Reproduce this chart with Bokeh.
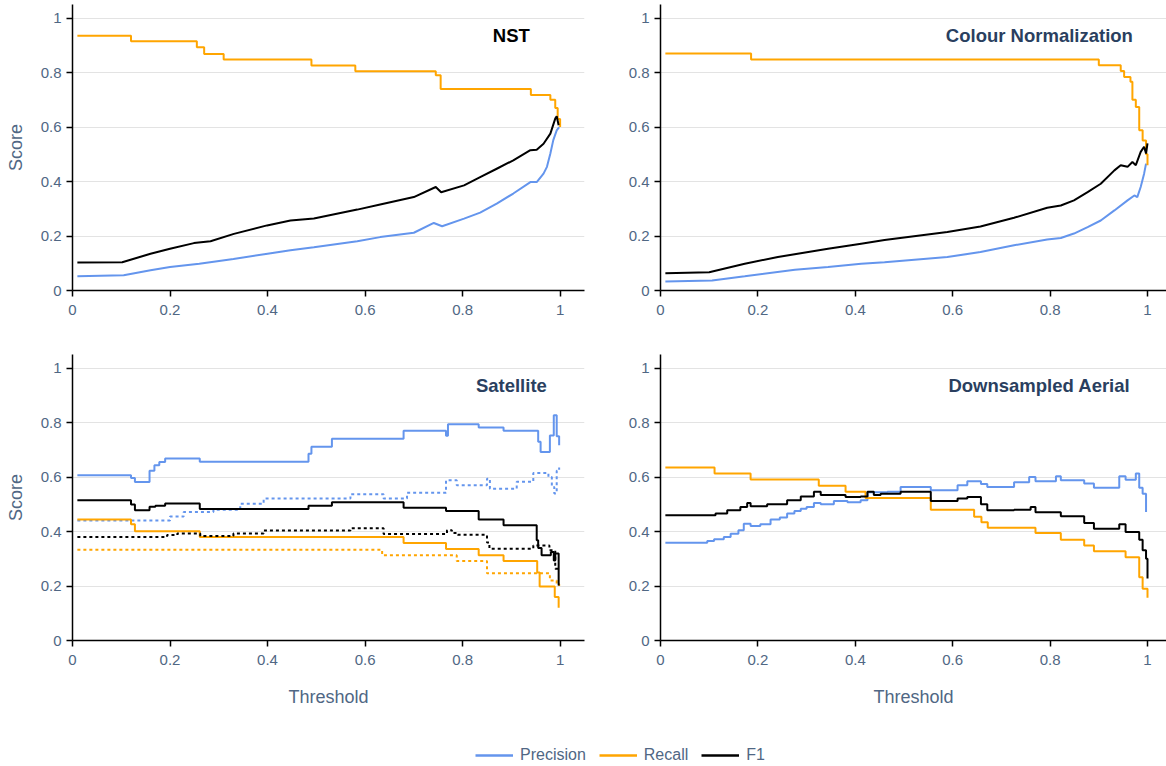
from bokeh.plotting import figure
from bokeh.models import Range1d, FixedTicker, CustomJSTickFormatter, Label, Legend, LegendItem
from bokeh.layouts import column, row
from bokeh.embed import file_html
from bokeh.resources import INLINE

# ---------------- data ----------------
panel_titles = ["NST", "Colour Normalization", "Satellite", "Downsampled Aerial"]
series_names = ["Precision", "Recall", "F1"]
tick_values = [0, 0.2, 0.4, 0.6, 0.8, 1]

# NST
nst_prec_x = [0.01, 0.105, 0.16, 0.2, 0.26, 0.33, 0.4, 0.447, 0.495, 0.584, 0.631, 0.70, 0.741, 0.758, 0.803, 0.836, 0.87, 0.904, 0.939, 0.952, 0.966, 0.973, 0.98, 0.986, 0.993, 0.998]
nst_prec_y = [0.052, 0.056, 0.074, 0.086, 0.098, 0.116, 0.135, 0.148, 0.159, 0.181, 0.196, 0.212, 0.248, 0.236, 0.264, 0.286, 0.319, 0.356, 0.398, 0.398, 0.429, 0.454, 0.503, 0.552, 0.588, 0.60]
nst_rec_x = [0.01, 0.12, 0.255, 0.27, 0.31, 0.49, 0.58, 0.745, 0.755, 0.94, 0.98, 0.99, 0.995, 1.0]
nst_rec_y = [0.935, 0.915, 0.893, 0.868, 0.848, 0.826, 0.805, 0.79, 0.74, 0.718, 0.70, 0.67, 0.63, 0.60]
nst_f1_x = [0.01, 0.102, 0.16, 0.2, 0.249, 0.283, 0.331, 0.399, 0.447, 0.495, 0.584, 0.631, 0.70, 0.745, 0.756, 0.803, 0.836, 0.87, 0.904, 0.939, 0.952, 0.966, 0.98, 0.99, 0.993, 0.997]
nst_f1_y = [0.103, 0.104, 0.135, 0.153, 0.174, 0.181, 0.208, 0.239, 0.257, 0.264, 0.297, 0.316, 0.343, 0.380, 0.361, 0.386, 0.416, 0.447, 0.478, 0.515, 0.517, 0.539, 0.576, 0.631, 0.640, 0.607]

# Colour Normalization
cn_prec_x = [0.01, 0.106, 0.173, 0.276, 0.344, 0.412, 0.46, 0.589, 0.657, 0.726, 0.794, 0.822, 0.849, 0.877, 0.904, 0.932, 0.959, 0.973, 0.979, 0.986, 0.993, 0.997]
cn_prec_y = [0.033, 0.037, 0.052, 0.076, 0.086, 0.098, 0.104, 0.123, 0.141, 0.166, 0.187, 0.193, 0.209, 0.233, 0.257, 0.294, 0.331, 0.349, 0.343, 0.380, 0.429, 0.466]
cn_rec_x = [0.01, 0.186, 0.90, 0.945, 0.952, 0.965, 0.969, 0.976, 0.983, 0.99, 0.997, 1.0]
cn_rec_y = [0.870, 0.848, 0.827, 0.806, 0.784, 0.766, 0.70, 0.674, 0.588, 0.551, 0.50, 0.46]
cn_f1_x = [0.01, 0.10, 0.173, 0.241, 0.344, 0.412, 0.46, 0.589, 0.657, 0.726, 0.794, 0.822, 0.849, 0.877, 0.904, 0.932, 0.945, 0.959, 0.969, 0.976, 0.986, 0.993, 0.997, 1.0]
cn_f1_y = [0.063, 0.067, 0.098, 0.123, 0.153, 0.172, 0.185, 0.215, 0.235, 0.267, 0.304, 0.312, 0.331, 0.361, 0.392, 0.441, 0.460, 0.454, 0.472, 0.460, 0.509, 0.528, 0.503, 0.54]

# Satellite (solid)
sat_prec_x = [0.01, 0.12, 0.128, 0.158, 0.168, 0.178, 0.19, 0.261, 0.484, 0.49, 0.532, 0.679, 0.766, 0.77, 0.833, 0.884, 0.955, 0.960, 0.979, 0.987, 0.993, 0.998]
sat_prec_y = [0.607, 0.597, 0.582, 0.623, 0.643, 0.655, 0.668, 0.656, 0.686, 0.711, 0.741, 0.770, 0.752, 0.794, 0.782, 0.770, 0.73, 0.692, 0.753, 0.827, 0.75, 0.717]
sat_rec_x = [0.01, 0.12, 0.128, 0.261, 0.679, 0.766, 0.833, 0.884, 0.953, 0.958, 0.989, 0.997]
sat_rec_y = [0.444, 0.427, 0.401, 0.380, 0.358, 0.336, 0.313, 0.292, 0.25, 0.198, 0.16, 0.12]
sat_f1_x = [0.01, 0.12, 0.128, 0.158, 0.17, 0.19, 0.261, 0.484, 0.532, 0.679, 0.766, 0.833, 0.884, 0.952, 0.955, 0.962, 0.981, 0.987, 0.99, 0.997]
sat_f1_y = [0.515, 0.499, 0.478, 0.491, 0.495, 0.503, 0.483, 0.495, 0.508, 0.487, 0.475, 0.444, 0.423, 0.368, 0.34, 0.313, 0.325, 0.294, 0.319, 0.202]
# Satellite (dotted)
sat2_prec_x = [0.01, 0.20, 0.228, 0.289, 0.344, 0.392, 0.570, 0.638, 0.686, 0.766, 0.788, 0.850, 0.856, 0.911, 0.945, 0.976, 0.983, 0.988, 0.993, 0.998]
sat2_prec_y = [0.441, 0.455, 0.472, 0.480, 0.502, 0.521, 0.537, 0.521, 0.542, 0.588, 0.570, 0.594, 0.557, 0.583, 0.615, 0.600, 0.564, 0.540, 0.623, 0.635]
sat2_rec_x = [0.01, 0.635, 0.788, 0.850, 0.979, 0.993, 0.998]
sat2_rec_y = [0.333, 0.313, 0.292, 0.247, 0.22, 0.207, 0.20]
sat2_f1_x = [0.01, 0.194, 0.215, 0.262, 0.33, 0.392, 0.570, 0.638, 0.768, 0.778, 0.79, 0.850, 0.855, 0.945, 0.978, 0.99, 0.998]
sat2_f1_y = [0.380, 0.387, 0.393, 0.384, 0.393, 0.404, 0.412, 0.391, 0.405, 0.395, 0.388, 0.36, 0.337, 0.349, 0.331, 0.263, 0.26]

# Downsampled Aerial
da_prec_x = [0.01, 0.096, 0.11, 0.13, 0.144, 0.16, 0.171, 0.185, 0.205, 0.226, 0.245, 0.26, 0.275, 0.288, 0.30, 0.315, 0.329, 0.356, 0.384, 0.411, 0.425, 0.466, 0.493, 0.555, 0.610, 0.630, 0.658, 0.671, 0.726, 0.757, 0.770, 0.812, 0.822, 0.870, 0.890, 0.942, 0.955, 0.976, 0.983, 0.99, 0.997]
da_prec_y = [0.359, 0.365, 0.372, 0.38, 0.392, 0.405, 0.429, 0.42, 0.427, 0.444, 0.452, 0.466, 0.475, 0.484, 0.49, 0.505, 0.500, 0.512, 0.508, 0.515, 0.544, 0.546, 0.564, 0.552, 0.570, 0.585, 0.575, 0.564, 0.581, 0.600, 0.585, 0.603, 0.588, 0.576, 0.561, 0.603, 0.590, 0.613, 0.561, 0.539, 0.472]
da_rec_x = [0.01, 0.111, 0.185, 0.325, 0.380, 0.421, 0.555, 0.644, 0.659, 0.672, 0.770, 0.822, 0.870, 0.89, 0.955, 0.983, 0.99, 1.0]
da_rec_y = [0.635, 0.613, 0.591, 0.568, 0.546, 0.523, 0.480, 0.454, 0.434, 0.414, 0.395, 0.370, 0.349, 0.328, 0.306, 0.232, 0.19, 0.157]
da_f1_x = [0.01, 0.106, 0.113, 0.137, 0.164, 0.178, 0.185, 0.219, 0.260, 0.288, 0.315, 0.329, 0.380, 0.411, 0.425, 0.438, 0.452, 0.493, 0.555, 0.610, 0.630, 0.658, 0.671, 0.726, 0.760, 0.770, 0.822, 0.870, 0.890, 0.942, 0.955, 0.983, 0.990, 0.997, 1.0]
da_f1_y = [0.460, 0.460, 0.466, 0.478, 0.490, 0.505, 0.493, 0.500, 0.515, 0.529, 0.546, 0.534, 0.527, 0.529, 0.546, 0.534, 0.539, 0.546, 0.512, 0.521, 0.527, 0.500, 0.478, 0.480, 0.490, 0.471, 0.456, 0.431, 0.410, 0.427, 0.398, 0.37, 0.331, 0.300, 0.228]

# ---------------- style ----------------
BLUE = "#6495ED"
ORANGE = "#FFA500"
BLACK = "#000000"
TICK_COLOR = "#506784"
TITLE_COLOR = "#2a3f5f"
FONT = "Liberation Sans"
YMAX = 1.05

fmt = CustomJSTickFormatter(code="return String(Math.round(tick*10)/10);")


def make_fig(width, height, xmax, ylabel, xlabel, border_left, border_right, border_bottom):
    p = figure(width=width, height=height, x_range=Range1d(0, xmax), y_range=Range1d(0, YMAX),
               output_backend="svg", toolbar_location=None,
               min_border_left=border_left, min_border_right=border_right,
               min_border_top=4, min_border_bottom=border_bottom)
    p.outline_line_color = None
    p.xgrid.visible = False
    p.ygrid.ticker = FixedTicker(ticks=tick_values)
    p.ygrid.grid_line_color = "#e3e3e3"
    p.ygrid.grid_line_width = 1
    for ax in (p.xaxis[0], p.yaxis[0]):
        ax.ticker = FixedTicker(ticks=tick_values)
        ax.formatter = fmt
        ax.axis_line_color = "black"
        ax.axis_line_width = 1.5
        ax.major_tick_line_color = "black"
        ax.major_tick_line_width = 1.5
        ax.major_tick_out = 6
        ax.major_tick_in = 0
        ax.minor_tick_line_color = None
        ax.major_label_text_font = FONT
        ax.major_label_text_font_size = "15px"
        ax.major_label_text_color = TICK_COLOR
        ax.axis_label_text_font = FONT
        ax.axis_label_text_font_size = "18px"
        ax.axis_label_text_font_style = "normal"
        ax.axis_label_text_color = TICK_COLOR
    p.yaxis[0].major_label_standoff = 5
    p.xaxis[0].major_label_standoff = 8
    if ylabel:
        p.yaxis[0].axis_label = ylabel
        p.yaxis[0].axis_label_standoff = 12
    if xlabel:
        p.xaxis[0].axis_label = xlabel
        p.xaxis[0].axis_label_standoff = 19
    return p


def add_title(p, text, x, color):
    p.add_layout(Label(x=x, y=0.935, text=text, text_align="center", text_baseline="middle",
                       text_font=FONT, text_font_size="18.5px", text_font_style="bold",
                       text_color=color))


LW = 2
LEFT_W, RIGHT_W = 596, 570
TOP_H, BOT_H = 350, 362

# NST
p1 = make_fig(LEFT_W, TOP_H, 1.05, "Score", None, 72, 12, 60)
p1.line(nst_prec_x, nst_prec_y, line_color=BLUE, line_width=LW)
p1.step(nst_rec_x, nst_rec_y, mode="after", line_color=ORANGE, line_width=LW)
p1.line(nst_f1_x, nst_f1_y, line_color=BLACK, line_width=LW)
add_title(p1, panel_titles[0], 0.90, "#000000")

# Colour Normalization
p2 = make_fig(RIGHT_W, TOP_H, 1.039, None, None, 64, 0, 60)
p2.line(cn_prec_x, cn_prec_y, line_color=BLUE, line_width=LW)
p2.step(cn_rec_x, cn_rec_y, mode="after", line_color=ORANGE, line_width=LW)
p2.line(cn_f1_x, cn_f1_y, line_color=BLACK, line_width=LW)
add_title(p2, panel_titles[1], 0.778, TITLE_COLOR)

# Satellite
p3 = make_fig(LEFT_W, BOT_H, 1.05, "Score", "Threshold", 72, 12, 72)
p3.step(sat_prec_x, sat_prec_y, mode="after", line_color=BLUE, line_width=LW)
p3.step(sat2_prec_x, sat2_prec_y, mode="after", line_color=BLUE, line_width=LW, line_dash="3 3")
p3.step(sat_rec_x, sat_rec_y, mode="after", line_color=ORANGE, line_width=LW)
p3.step(sat2_rec_x, sat2_rec_y, mode="after", line_color=ORANGE, line_width=LW, line_dash="3 3")
p3.step(sat_f1_x, sat_f1_y, mode="after", line_color=BLACK, line_width=LW)
p3.step(sat2_f1_x, sat2_f1_y, mode="after", line_color=BLACK, line_width=LW, line_dash="3 3")
add_title(p3, panel_titles[2], 0.90, TITLE_COLOR)

# Downsampled Aerial
p4 = make_fig(RIGHT_W, BOT_H, 1.039, None, "Threshold", 64, 0, 72)
p4.step(da_prec_x, da_prec_y, mode="after", line_color=BLUE, line_width=LW)
p4.step(da_rec_x, da_rec_y, mode="after", line_color=ORANGE, line_width=LW)
p4.step(da_f1_x, da_f1_y, mode="after", line_color=BLACK, line_width=LW)
add_title(p4, panel_titles[3], 0.778, TITLE_COLOR)

# Legend strip (proxy lines lie outside the visible range)
pl = figure(width=LEFT_W + RIGHT_W, height=766 - TOP_H - BOT_H, x_range=Range1d(0, 1), y_range=Range1d(0, 1),
            output_backend="svg", toolbar_location=None, x_axis_type=None, y_axis_type=None,
            min_border=0)
pl.outline_line_color = None
pl.grid.visible = False
rs = [pl.line(x=[0, 1], y=[-5, -5], line_color=c, line_width=2.5) for c in (BLUE, ORANGE, BLACK)]
legend = Legend(items=[LegendItem(label=n, renderers=[r]) for n, r in zip(series_names, rs)],
                orientation="horizontal", location=(475, 2),
                glyph_width=38, glyph_height=14, label_height=14, label_standoff=7,
                spacing=13, padding=0, margin=0,
                border_line_alpha=0, background_fill_alpha=0,
                label_text_font=FONT, label_text_font_size="16px", label_text_color=TICK_COLOR)
pl.add_layout(legend)

layout = column(row(p1, p2), row(p3, p4), pl)
open("out.html", "w").write(file_html(layout, INLINE))
